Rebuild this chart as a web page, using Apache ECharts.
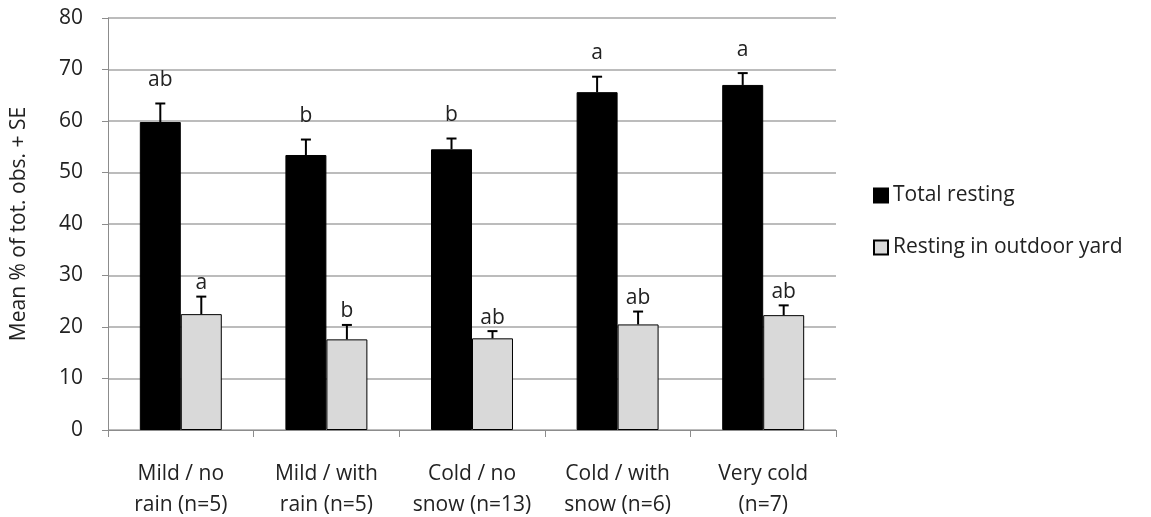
<!DOCTYPE html>
<html>
<head>
<meta charset="utf-8">
<script src="https://cdn.jsdelivr.net/npm/echarts@6/dist/echarts.min.js"></script>
<style>
  html, body { margin: 0; padding: 0; background: #fff; }
  #chart { width: 1151px; height: 517px; }
</style>
</head>
<body>
<div id="chart"></div>
<script>
// categories (two-line labels, as in the figure)
const categories = [
  'Mild / no\nrain (n=5)',
  'Mild / with\nrain (n=5)',
  'Cold / no\nsnow (n=13)',
  'Cold / with\nsnow (n=6)',
  'Very cold\n(n=7)'
];

// means and standard errors
const totalResting = [59.8, 53.4, 54.5, 65.6, 67.0];
const totalSE = [3.6, 3.0, 2.1, 3.0, 2.3];
const totalLetters = ['ab', 'b', 'b', 'a', 'a'];

const outdoorResting = [22.5, 17.6, 17.8, 20.5, 22.3];
const outdoorSE = [3.4, 2.8, 1.4, 2.5, 1.9];
const outdoorLetters = ['a', 'b', 'ab', 'ab', 'ab'];

const FONT = 'Open Sans';
const FS = 21;
const CAT_GAP = 0.437; // share of band left empty between groups

// error bar + significance letter, drawn on the grouped bar position
function errorSeries(name, means, ses, letters, side, letterLift) {
  return {
    name: name + ' SE',
    type: 'custom',
    z: 5,
    silent: true,
    data: means.map((m, i) => [i, m, m + ses[i]]),
    renderItem: function (params, api) {
      const band = api.size([1, 0])[0];
      const barW = band * (1 - CAT_GAP) / 2;
      const base = api.coord([api.value(0), api.value(1)]);
      const top = api.coord([api.value(0), api.value(2)]);
      const x = base[0] + side * barW / 2;
      const cap = 5;
      const style = { stroke: '#000', lineWidth: 2 };
      return {
        type: 'group',
        children: [
          { type: 'line', shape: { x1: x, y1: base[1], x2: x, y2: top[1] }, style: style },
          { type: 'line', shape: { x1: x - cap, y1: top[1], x2: x + cap, y2: top[1] }, style: style },
          {
            type: 'text',
            style: {
              text: letters[params.dataIndex],
              x: x, y: top[1] - letterLift,
              textAlign: 'center', textVerticalAlign: 'bottom',
              font: FS + 'px "' + FONT + '"', fill: '#222'
            }
          }
        ]
      };
    }
  };
}

const chart = echarts.init(document.getElementById('chart'));
chart.setOption({
  animation: false,
  backgroundColor: '#fff',
  textStyle: { fontFamily: FONT, color: '#222' },
  grid: { left: 108, right: 315, top: 18, bottom: 87, outerBoundsMode: 'none', containLabel: false },
  legend: {
    orient: 'vertical',
    left: 868,
    top: 180,
    itemWidth: 14,
    itemHeight: 14,
    itemGap: 31,
    icon: 'rect',
    textStyle: { fontFamily: FONT, fontSize: FS, color: '#222' },
    data: ['Total resting', 'Resting in outdoor yard']
  },
  xAxis: {
    type: 'category',
    data: categories,
    axisLine: { lineStyle: { color: '#8c8c8c', width: 1 } },
    axisTick: { show: true, length: 7, lineStyle: { color: '#8c8c8c' } },
    axisLabel: { interval: 0, fontFamily: FONT, fontSize: FS, color: '#222', lineHeight: 31, margin: 29 },
    splitLine: { show: false }
  },
  yAxis: {
    type: 'value',
    min: 0, max: 80, interval: 10,
    name: 'Mean % of tot. obs. + SE',
    nameLocation: 'middle',
    nameGap: 78,
    nameTextStyle: { fontFamily: FONT, fontSize: 21, color: '#222' },
    axisLine: { show: true, lineStyle: { color: '#8c8c8c', width: 1 } },
    axisTick: { show: true, inside: false, length: 6, lineStyle: { color: '#8c8c8c' } },
    axisLabel: { fontFamily: FONT, fontSize: FS, color: '#222', margin: 25 },
    splitLine: { lineStyle: { color: '#a6a6a6', width: 1.5 } }
  },
  series: [
    {
      name: 'Total resting',
      type: 'bar',
      data: totalResting,
      barGap: '0%',
      barCategoryGap: (CAT_GAP * 100) + '%',
      itemStyle: { color: '#000', borderColor: '#000', borderWidth: 1 }
    },
    {
      name: 'Resting in outdoor yard',
      type: 'bar',
      data: outdoorResting,
      itemStyle: { color: '#d9d9d9', borderColor: '#000', borderWidth: 1 }
    },
    errorSeries('Total resting', totalResting, totalSE, totalLetters, -1, 13),
    errorSeries('Resting in outdoor yard', outdoorResting, outdoorSE, outdoorLetters, 1, 3)
  ]
});
</script>
</body>
</html>
